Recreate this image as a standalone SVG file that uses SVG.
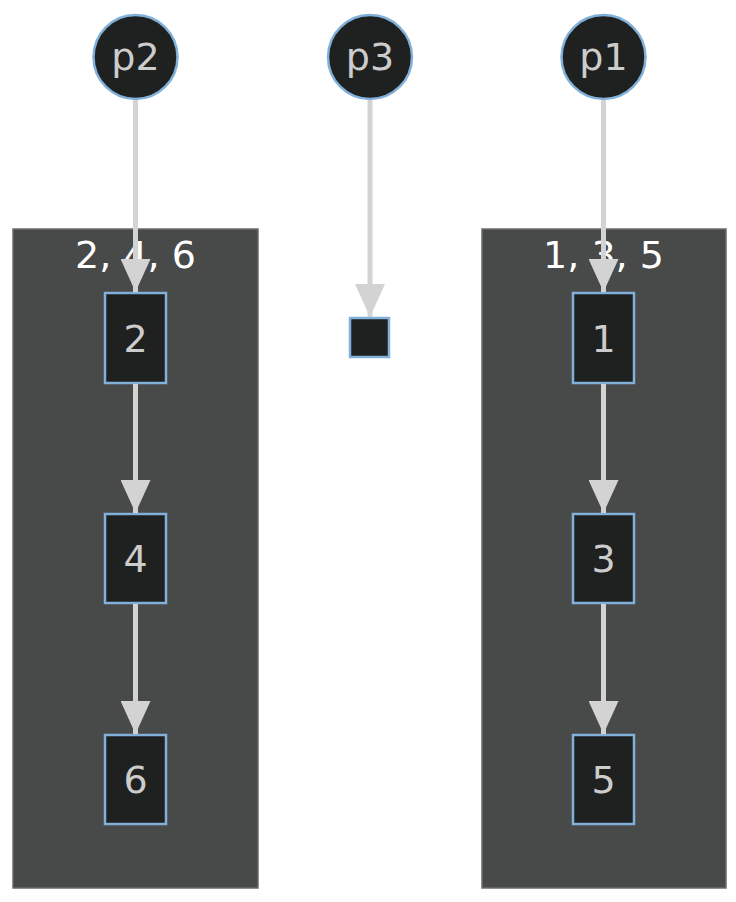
<svg xmlns="http://www.w3.org/2000/svg" width="736" height="902" viewBox="0 0 736 902">
<defs>
<style>
.cluster rect{fill:#484949;stroke:#6b6b6b;stroke-width:1.5}
.clabel{font-family:"DejaVu Sans",sans-serif;font-size:38px;fill:#ffffff;text-anchor:middle}
.node circle,.node rect{fill:#1f2020;stroke:#81b1db;stroke-width:2.5}
.nlabel{font-family:"DejaVu Sans",sans-serif;font-size:38px;fill:#cccccc;text-anchor:middle}
.edge{stroke:#d3d3d3;stroke-width:5;fill:none}
.ahead{fill:#d3d3d3}
</style>
<marker id="arrow" markerUnits="userSpaceOnUse" markerWidth="34" markerHeight="30" refX="33" refY="15" orient="auto" viewBox="0 0 34 30">
<path class="ahead" d="M0 0 L33 15 L0 30 Z"/>
</marker>
</defs>
<g id="cluster-even" class="cluster">
<rect x="13" y="229" width="245" height="659"/>
<text class="clabel" x="135.5" y="268">2, 4, 6</text>
</g>
<g id="cluster-odd" class="cluster">
<rect x="482" y="229" width="244" height="659"/>
<text class="clabel" x="603.5" y="268">1, 3, 5</text>
</g>
<g id="p2" class="node">
<circle cx="135.5" cy="57" r="42"/>
<text class="nlabel" x="135.5" y="70">p2</text>
</g>
<g id="p3" class="node">
<circle cx="370" cy="57" r="42"/>
<text class="nlabel" x="370" y="70">p3</text>
</g>
<g id="p1" class="node">
<circle cx="603.5" cy="57" r="42"/>
<text class="nlabel" x="603.5" y="70">p1</text>
</g>
<g id="n2" class="node">
<rect x="105" y="293" width="61" height="90"/>
<text class="nlabel" x="135.5" y="352">2</text>
</g>
<g id="n4" class="node">
<rect x="105" y="514" width="61" height="89"/>
<text class="nlabel" x="135.5" y="572">4</text>
</g>
<g id="n6" class="node">
<rect x="105" y="735" width="61" height="89"/>
<text class="nlabel" x="135.5" y="793">6</text>
</g>
<g id="empty" class="node">
<rect x="350" y="318" width="39" height="39"/>
</g>
<g id="n1" class="node">
<rect x="573" y="293" width="61" height="90"/>
<text class="nlabel" x="603.5" y="352">1</text>
</g>
<g id="n3" class="node">
<rect x="573" y="514" width="61" height="89"/>
<text class="nlabel" x="603.5" y="572">3</text>
</g>
<g id="n5" class="node">
<rect x="573" y="735" width="61" height="89"/>
<text class="nlabel" x="603.5" y="793">5</text>
</g>
<g id="edges">
<path class="edge" d="M135.5 100 L135.5 292" marker-end="url(#arrow)"/>
<path class="edge" d="M135.5 384 L135.5 513" marker-end="url(#arrow)"/>
<path class="edge" d="M135.5 604 L135.5 734" marker-end="url(#arrow)"/>
<path class="edge" d="M370 100 L370 317" marker-end="url(#arrow)"/>
<path class="edge" d="M603.5 100 L603.5 292" marker-end="url(#arrow)"/>
<path class="edge" d="M603.5 384 L603.5 513" marker-end="url(#arrow)"/>
<path class="edge" d="M603.5 604 L603.5 734" marker-end="url(#arrow)"/>
</g>
</svg>
